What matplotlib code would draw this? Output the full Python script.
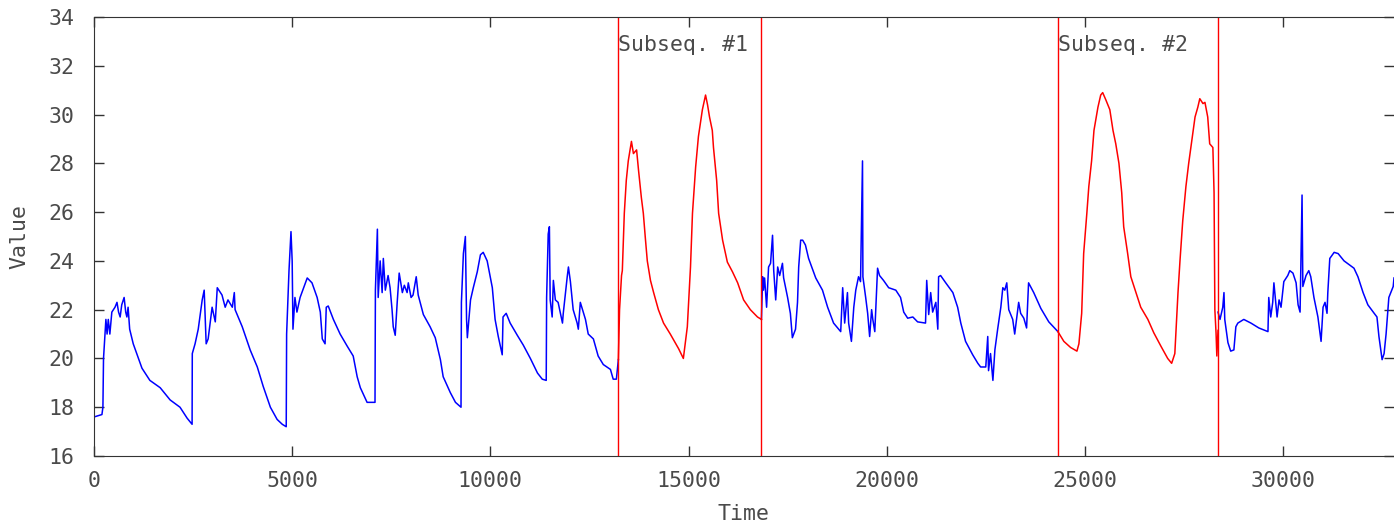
import numpy as np
import matplotlib
matplotlib.use("Agg")
import matplotlib.pyplot as plt

# (time, value) knots for each piece of the series
blue_a_t = [0, 200, 225, 240, 300, 330, 360, 400, 450, 530, 580, 620, 660, 700, 760, 800, 830, 860, 900, 990,
            1210, 1410, 1670, 1920, 2170, 2350, 2475, 2480, 2550, 2630, 2730, 2780, 2830, 2880, 2980, 3060, 3110,
            3230, 3310, 3380, 3490, 3540, 3560, 3740, 3940, 4120, 4270, 4450, 4620, 4750, 4850, 4860, 4920, 4970,
            5000, 5020, 5070, 5120, 5200, 5380, 5500, 5630, 5710, 5760, 5830, 5860, 5910, 6040, 6210, 6390, 6540,
            6640, 6720, 6890, 7090, 7100, 7150, 7170, 7220, 7270, 7300, 7350, 7420, 7470, 7520, 7550, 7600, 7650,
            7700, 7780, 7830, 7900, 7930, 8000, 8050, 8130, 8180, 8310, 8480, 8610, 8740, 8810, 8990, 9120, 9260,
            9270, 9320, 9370, 9400, 9420, 9500, 9570, 9670, 9750, 9820, 9920, 10050, 10120, 10200, 10300, 10320,
            10400, 10500, 10680, 10830, 11010, 11190, 11310, 11410, 11420, 11460, 11490, 11510, 11560, 11590,
            11640, 11710, 11820, 11840, 11940, 11970, 12020, 12090, 12190, 12220, 12270, 12400, 12470, 12600,
            12720, 12850, 13030, 13100, 13180, 13230]
blue_a_v = [17.6, 17.7, 18.0, 20.0, 21.6, 21.0, 21.6, 21.0, 21.9, 22.1, 22.3, 21.9, 21.7, 22.2, 22.5, 21.9, 21.7,
            22.1, 21.2, 20.6, 19.6, 19.1, 18.8, 18.3, 18.0, 17.55, 17.3, 20.2, 20.6, 21.2, 22.4, 22.8, 20.6, 20.8,
            22.1, 21.5, 22.9, 22.6, 22.1, 22.4, 22.1, 22.7, 22.0, 21.3, 20.35, 19.65, 18.85, 18.0, 17.5, 17.3,
            17.2, 21.0, 23.6, 25.2, 24.0, 21.2, 22.5, 21.9, 22.5, 23.3, 23.1, 22.5, 21.9, 20.8, 20.6, 22.1, 22.15,
            21.6, 21.0, 20.5, 20.1, 19.25, 18.8, 18.2, 18.2, 22.8, 25.3, 22.5, 24.0, 22.7, 24.1, 22.8, 23.4, 22.9,
            22.0, 21.3, 20.95, 22.3, 23.5, 22.7, 23.0, 22.7, 23.1, 22.5, 22.6, 23.35, 22.6, 21.8, 21.3, 20.85,
            19.95, 19.25, 18.6, 18.2, 18.0, 22.3, 24.3, 25.0, 21.6, 20.85, 22.4, 22.9, 23.55, 24.25, 24.35, 24.0,
            22.9, 21.6, 20.9, 20.15, 21.7, 21.85, 21.45, 20.95, 20.55, 20.0, 19.4, 19.15, 19.1, 22.5, 25.1, 25.4,
            22.4, 21.7, 23.2, 22.4, 22.3, 21.45, 21.85, 23.35, 23.75, 23.15, 22.0, 21.45, 21.2, 22.3, 21.6, 21.0,
            20.8, 20.1, 19.75, 19.55, 19.15, 19.15, 19.95]

red_1_t = [13230, 13260, 13310, 13330, 13380, 13430, 13480, 13560, 13610, 13690, 13740, 13810, 13860, 13910,
           13960, 14040, 14120, 14240, 14370, 14540, 14750, 14870, 14970, 15050, 15100, 15180, 15250, 15350,
           15430, 15480, 15530, 15600, 15630, 15710, 15760, 15860, 15980, 16110, 16240, 16390, 16560, 16740, 16840]
red_1_v = [19.95, 22.0, 23.4, 23.6, 25.95, 27.3, 28.1, 28.9, 28.4, 28.55, 27.7, 26.6, 25.95, 24.95, 24.0, 23.2,
           22.7, 22.0, 21.45, 21.0, 20.4, 20.0, 21.3, 23.75, 25.95, 27.85, 29.1, 30.2, 30.8, 30.4, 29.9, 29.35,
           28.65, 27.3, 25.95, 24.85, 23.95, 23.55, 23.1, 22.4, 22.0, 21.7, 21.6]

blue_b_t = [16840, 16870, 16890, 16920, 16970, 17020, 17070, 17120, 17150, 17200, 17250, 17300, 17370, 17400,
            17500, 17570, 17620, 17700, 17750, 17780, 17830, 17880, 17950, 18030, 18210, 18380, 18510, 18660,
            18840, 18890, 18940, 19010, 19040, 19110, 19170, 19220, 19290, 19340, 19390, 19400, 19470, 19520,
            19570, 19620, 19650, 19700, 19770, 19820, 19920, 20050, 20230, 20350, 20430, 20530, 20660, 20780,
            20980, 21010, 21060, 21110, 21160, 21240, 21290, 21310, 21360, 21490, 21670, 21790, 21870, 21990,
            22170, 22300, 22370, 22500, 22550, 22570, 22620, 22680, 22730, 22800, 22880, 22930, 22980, 23030,
            23080, 23180, 23230, 23330, 23380, 23460, 23530, 23580, 23710, 23890, 24090, 24320]
blue_b_v = [21.6, 23.35, 22.8, 23.3, 22.1, 23.75, 23.9, 25.05, 23.6, 22.4, 23.75, 23.4, 23.9, 23.3, 22.5, 21.85,
            20.85, 21.2, 22.3, 23.75, 24.85, 24.85, 24.65, 24.1, 23.3, 22.8, 22.1, 21.45, 21.1, 22.9, 21.45, 22.7,
            21.45, 20.7, 22.1, 22.8, 23.35, 23.15, 28.1, 23.35, 22.5, 21.85, 20.9, 22.0, 21.6, 21.1, 23.7, 23.4,
            23.2, 22.9, 22.8, 22.5, 21.9, 21.65, 21.7, 21.5, 21.45, 23.2, 21.8, 22.7, 21.9, 22.3, 21.2, 23.35,
            23.4, 23.1, 22.7, 22.1, 21.45, 20.7, 20.15, 19.8, 19.65, 19.65, 20.9, 19.5, 20.2, 19.1, 20.35, 21.2,
            22.1, 22.9, 22.8, 23.1, 22.0, 21.6, 21.0, 22.3, 21.85, 21.65, 21.25, 23.1, 22.7, 22.05, 21.5, 21.1]

red_2_t = [24320, 24470, 24640, 24800, 24850, 24920, 24970, 25050, 25100, 25170, 25230, 25330, 25400, 25450,
           25530, 25630, 25710, 25780, 25860, 25930, 25980, 26080, 26160, 26290, 26410, 26590, 26740, 26920,
           27090, 27190, 27270, 27350, 27400, 27470, 27550, 27620, 27700, 27780, 27850, 27900, 27980, 28030,
           28100, 28150, 28230, 28260, 28280, 28310, 28330, 28360]
red_2_v = [21.1, 20.7, 20.45, 20.3, 20.6, 21.85, 24.3, 25.95, 27.05, 28.1, 29.35, 30.3, 30.8, 30.9, 30.6, 30.2,
           29.35, 28.8, 28.0, 26.8, 25.4, 24.3, 23.35, 22.7, 22.1, 21.6, 21.05, 20.5, 20.0, 19.8, 20.2, 22.7,
           24.0, 25.65, 27.05, 28.0, 28.95, 29.9, 30.3, 30.65, 30.45, 30.5, 29.9, 28.8, 28.65, 26.8, 22.0, 21.05,
           20.1, 21.15]

blue_c_t = [28360, 28410, 28480, 28510, 28530, 28610, 28680, 28760, 28810, 28860, 29010, 29190, 29390, 29620,
            29640, 29690, 29740, 29770, 29850, 29900, 29950, 30020, 30120, 30170, 30250, 30330, 30380, 30430,
            30480, 30500, 30580, 30650, 30700, 30780, 30880, 30960, 31010, 31060, 31110, 31130, 31180, 31290,
            31390, 31540, 31790, 31890, 32020, 32140, 32300, 32370, 32420, 32500, 32550, 32600, 32670, 32780, 32800]
blue_c_v = [21.9, 21.6, 22.1, 22.7, 21.6, 20.65, 20.3, 20.35, 21.3, 21.45, 21.6, 21.45, 21.25, 21.1, 22.5, 21.7,
            22.3, 23.1, 21.7, 22.4, 22.1, 23.15, 23.4, 23.6, 23.5, 23.1, 22.2, 21.9, 26.7, 22.95, 23.4, 23.6, 23.35,
            22.5, 21.7, 20.7, 22.1, 22.3, 21.85, 22.7, 24.1, 24.35, 24.3, 24.0, 23.7, 23.35, 22.7, 22.2, 21.85,
            21.7, 20.9, 19.95, 20.2, 21.0, 22.5, 22.95, 23.3]

subseq_bounds = [13230, 16840, 24320, 28360]
subseq_labels = ["Subseq. #1", "Subseq. #2"]
x_ticks = [0, 5000, 10000, 15000, 20000, 25000, 30000]
y_ticks = list(range(16, 35, 2))

plt.rcParams['font.family'] = ['DejaVu Sans Mono']
txt = '#4a4a4a'

fig = plt.figure(figsize=(13.94, 5.26), dpi=100)
ax = fig.add_axes([94 / 1394, 1 - 456 / 526, 1300 / 1394, 439 / 526])

for t, v in [(blue_a_t, blue_a_v), (blue_b_t, blue_b_v), (blue_c_t, blue_c_v)]:
    ax.plot(t, v, color='#0000ff', lw=1.1)
for t, v in [(red_1_t, red_1_v), (red_2_t, red_2_v)]:
    ax.plot(t, v, color='#ff0000', lw=1.1)

for b in subseq_bounds:
    ax.axvline(b, color='#ff0000', lw=1.0)
for lab, b in zip(subseq_labels, subseq_bounds[::2]):
    ax.text(b, 32.85, lab, ha='left', va='center', fontsize=15.5, color=txt)

ax.set_xlim(0, 32800)
ax.set_ylim(16, 34)
ax.set_xticks(x_ticks)
ax.set_yticks(y_ticks)
ax.tick_params(direction='in', length=7, width=1, top=True, right=True,
               labelsize=15.5, labelcolor=txt, color='#333333', pad=11)
ax.tick_params(axis='y', pad=14)
ax.spines['right'].set_visible(False)
for s in ['left', 'bottom', 'top']:
    ax.spines[s].set_color('#333333')

ax.set_xlabel('Time', fontsize=15.5, color=txt)
ax.set_ylabel('Value', fontsize=15.5, color=txt)
ax.xaxis.set_label_coords(0.5, -0.11)
ax.yaxis.set_label_coords(-0.05, 0.5)

fig.savefig('out.png', dpi=100)
